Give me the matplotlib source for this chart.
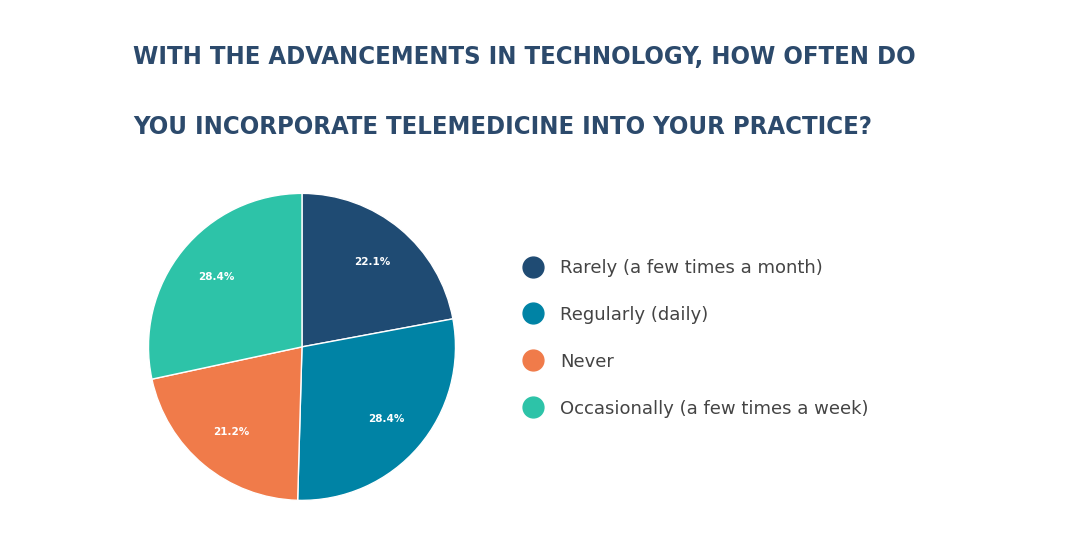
import matplotlib.pyplot as plt
from matplotlib.lines import Line2D

labels = ['Rarely (a few times a month)', 'Regularly (daily)', 'Never', 'Occasionally (a few times a week)']
shares = [22.1, 28.4, 21.2, 28.4]
colors = ['#1f4b73', '#0083a5', '#f07b4a', '#2dc3a8']
title_lines = ['WITH THE ADVANCEMENTS IN TECHNOLOGY, HOW OFTEN DO',
               'YOU INCORPORATE TELEMEDICINE INTO YOUR PRACTICE?']

fig = plt.figure(figsize=(10.72, 5.42), dpi=100)
fig.patch.set_facecolor('white')

# title: fit each line to the reference width (condensed font not available)
title_texts = []
for s, y in zip(title_lines, [0.895, 0.765]):
    t = fig.text(0.124, y, s, fontsize=28, fontweight='bold', family='DejaVu Sans',
                 stretch='condensed', color='#2c4a6c', va='center')
    title_texts.append(t)
renderer = fig.canvas.get_renderer()
w0 = title_texts[0].get_window_extent(renderer).width
for t in title_texts:
    t.set_fontsize(28 * 782 / w0)

ax = fig.add_axes([0.1027, 0.006, 0.358, 0.708])
wedges, texts, autotexts = ax.pie(shares, colors=colors, startangle=90, counterclock=False,
                                  autopct='%.1f%%', pctdistance=0.72,
                                  wedgeprops=dict(edgecolor='white', linewidth=1))
for t in autotexts:
    t.set_color('white')
    t.set_fontsize(7.5)
    t.set_fontweight('bold')
ax.set_aspect('equal')

handles = [Line2D([], [], marker='o', linestyle='', markersize=15, color=c) for c in colors]
fig.legend(handles, labels, loc='center left', bbox_to_anchor=(0.465, 0.376), frameon=False,
           fontsize=13, labelspacing=1.6, handletextpad=0.5, labelcolor='#444444')

fig.savefig('out.png', dpi=100)
